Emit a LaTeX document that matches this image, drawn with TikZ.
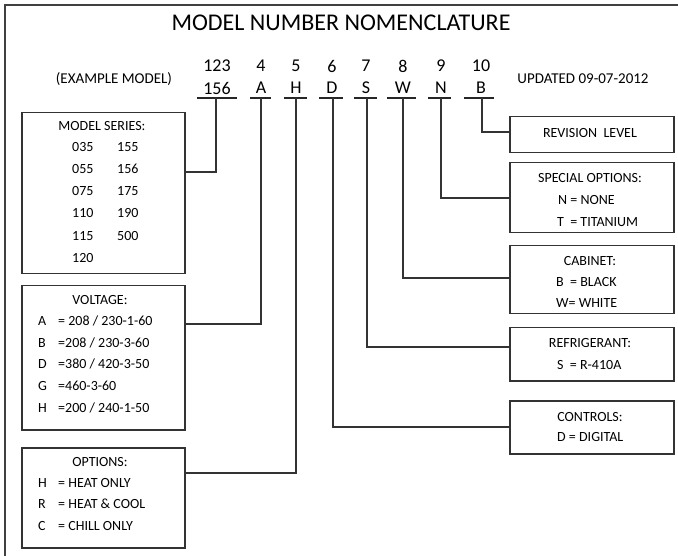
\documentclass[tikz,border=0pt]{standalone}
\usepackage{fontspec}
\setmainfont{Carlito}
\begin{document}
\begin{tikzpicture}[x=1pt,y=-1pt,
  frame/.style={draw=black!75,line width=1.5pt},
  box/.style={draw=black!80,line width=1.5pt,inner sep=0pt},
  wire/.style={draw=black!80,line width=1.5pt},
  uline/.style={draw=black!85,line width=1.6pt},
  txt/.style={inner sep=0pt,font=\fontsize{14}{16}\selectfont},
  hdr/.style={inner sep=0pt,font=\fontsize{15}{17}\selectfont},
  dig/.style={inner sep=0pt,font=\fontsize{18}{20}\selectfont},
  ttl/.style={inner sep=0pt,font=\fontsize{24}{28}\selectfont}]
\useasboundingbox[fill=white] (0,0) rectangle (678,556);
\draw[frame] (678,5) -- (5,5) -- (5,556);
\node[ttl] (title) at (341,23) {MODEL NUMBER NOMENCLATURE};
\node[hdr] (ex) at (114,79) {(EXAMPLE MODEL)};
\node[hdr] (upd) at (583,79) {UPDATED 09-07-2012};
% digit columns
\node[dig] (d1t) at (217,66) {123}; \node[dig] (d1b) at (217,88) {156};
\node[dig] (d4t) at (261,66) {4};   \node[dig] (d4b) at (261,88) {A};
\node[dig] (d5t) at (296,66) {5};   \node[dig] (d5b) at (296,88) {H};
\node[dig] (d6t) at (332,66) {6};   \node[dig] (d6b) at (332,88) {D};
\node[dig] (d7t) at (366,66) {7};   \node[dig] (d7b) at (366,88) {S};
\node[dig] (d8t) at (403,66) {8};   \node[dig] (d8b) at (403,88) {W};
\node[dig] (d9t) at (441,66) {9};   \node[dig] (d9b) at (441,88) {N};
\node[dig] (d10t) at (481,66) {10}; \node[dig] (d10b) at (481,88) {B};
\draw[uline] (197,98) -- (237,98); \coordinate (u1) at (216,98);
\draw[uline] (250,98) -- (271,98); \coordinate (u4) at (261,98);
\draw[uline] (284,98) -- (307,98); \coordinate (u5) at (296,98);
\draw[uline] (319,98) -- (343,98); \coordinate (u6) at (333,98);
\draw[uline] (354,98) -- (377,98); \coordinate (u7) at (367,98);
\draw[uline] (387,98) -- (416,98); \coordinate (u8) at (403,98);
\draw[uline] (428,98) -- (451,98); \coordinate (u9) at (441,98);
\draw[uline] (464,98) -- (494,98); \coordinate (u10) at (482,98);
% left boxes
\node[box,anchor=north west,minimum width=163pt,minimum height=161pt] (ms) at (21,112) {};
\node[box,anchor=north west,minimum width=163pt,minimum height=144pt] (vo) at (21,285) {};
\node[box,anchor=north west,minimum width=163pt,minimum height=100pt] (op) at (21,447) {};
% right boxes
\node[box,anchor=north west,minimum width=164pt,minimum height=36pt] (rv) at (509,116) {};
\node[box,anchor=north west,minimum width=164pt,minimum height=70pt] (sp) at (509,162) {};
\node[box,anchor=north west,minimum width=164pt,minimum height=68pt] (cb) at (509,245) {};
\node[box,anchor=north west,minimum width=164pt,minimum height=53pt] (rf) at (509,327) {};
\node[box,anchor=north west,minimum width=164pt,minimum height=53pt] (ct) at (509,400) {};
% connectors
\draw[wire] (u1) |- (ms.east |- 0,172);
\draw[wire] (u4) |- (vo.east |- 0,324);
\draw[wire] (u5) |- (op.east |- 0,473);
\draw[wire] (u6) |- (ct.west |- 0,427);
\draw[wire] (u7) |- (rf.west |- 0,347);
\draw[wire] (u8) |- (cb.west |- 0,278);
\draw[wire] (u9) |- (sp.west |- 0,198);
\draw[wire] (u10) |- (rv.west |- 0,132);
% model series text
\node[txt] (mst) at (102,126) {MODEL SERIES:};
\node[txt,anchor=west] (m1) at (72,147) {035}; \node[txt,anchor=west] (m2) at (117,147) {155};
\node[txt,anchor=west] (m3) at (72,169) {055}; \node[txt,anchor=west] (m4) at (117,169) {156};
\node[txt,anchor=west] (m5) at (72,191) {075}; \node[txt,anchor=west] (m6) at (117,191) {175};
\node[txt,anchor=west] (m7) at (72,213) {110}; \node[txt,anchor=west] (m8) at (117,213) {190};
\node[txt,anchor=west] (m9) at (72,236) {115}; \node[txt,anchor=west] (m10) at (117,236) {500};
\node[txt,anchor=west] (m11) at (72,258) {120};
% voltage text
\node[txt] (vot) at (100,300) {VOLTAGE:};
\node[txt,anchor=west] (va) at (38,321) {A}; \node[txt,anchor=west] (vae) at (58,321) {= 208 / 230-1-60};
\node[txt,anchor=west] (vb) at (38,343) {B}; \node[txt,anchor=west] (vbe) at (58,343) {=208 / 230-3-60};
\node[txt,anchor=west] (vd) at (38,364) {D}; \node[txt,anchor=west] (vde) at (58,364) {=380 / 420-3-50};
\node[txt,anchor=west] (vg) at (38,386) {G}; \node[txt,anchor=west] (vge) at (58,386) {=460-3-60};
\node[txt,anchor=west] (vh) at (38,408) {H}; \node[txt,anchor=west] (vhe) at (58,408) {=200 / 240-1-50};
% options text
\node[txt] (opt) at (100,462) {OPTIONS:};
\node[txt,anchor=west] (oh) at (38,483) {H}; \node[txt,anchor=west] (ohe) at (58,483) {= HEAT ONLY};
\node[txt,anchor=west] (or) at (38,504) {R}; \node[txt,anchor=west] (ore) at (58,504) {= HEAT \& COOL};
\node[txt,anchor=west] (oc) at (38,526) {C}; \node[txt,anchor=west] (oce) at (58,526) {= CHILL ONLY};
% right texts
\node[txt] (rvt) at (590,133) {REVISION\ \ LEVEL};
\node[txt] (spt) at (590,178) {SPECIAL OPTIONS:};
\node[txt,anchor=west] (sp1) at (558,200) {N = NONE};
\node[txt,anchor=west] (sp2) at (557,222) {T\ \ = TITANIUM};
\node[txt] (cbt) at (590,261) {CABINET:};
\node[txt,anchor=west] (cb1) at (556,282) {B\ \ = BLACK};
\node[txt,anchor=west] (cb2) at (556,303) {W= WHITE};
\node[txt] (rft) at (590,343) {REFRIGERANT:};
\node[txt,anchor=west] (rf1) at (557,365) {S\ \ = R-410A};
\node[txt] (ctt) at (590,417) {CONTROLS:};
\node[txt,anchor=west] (ct1) at (557,437) {D = DIGITAL};
\end{tikzpicture}
\end{document}
